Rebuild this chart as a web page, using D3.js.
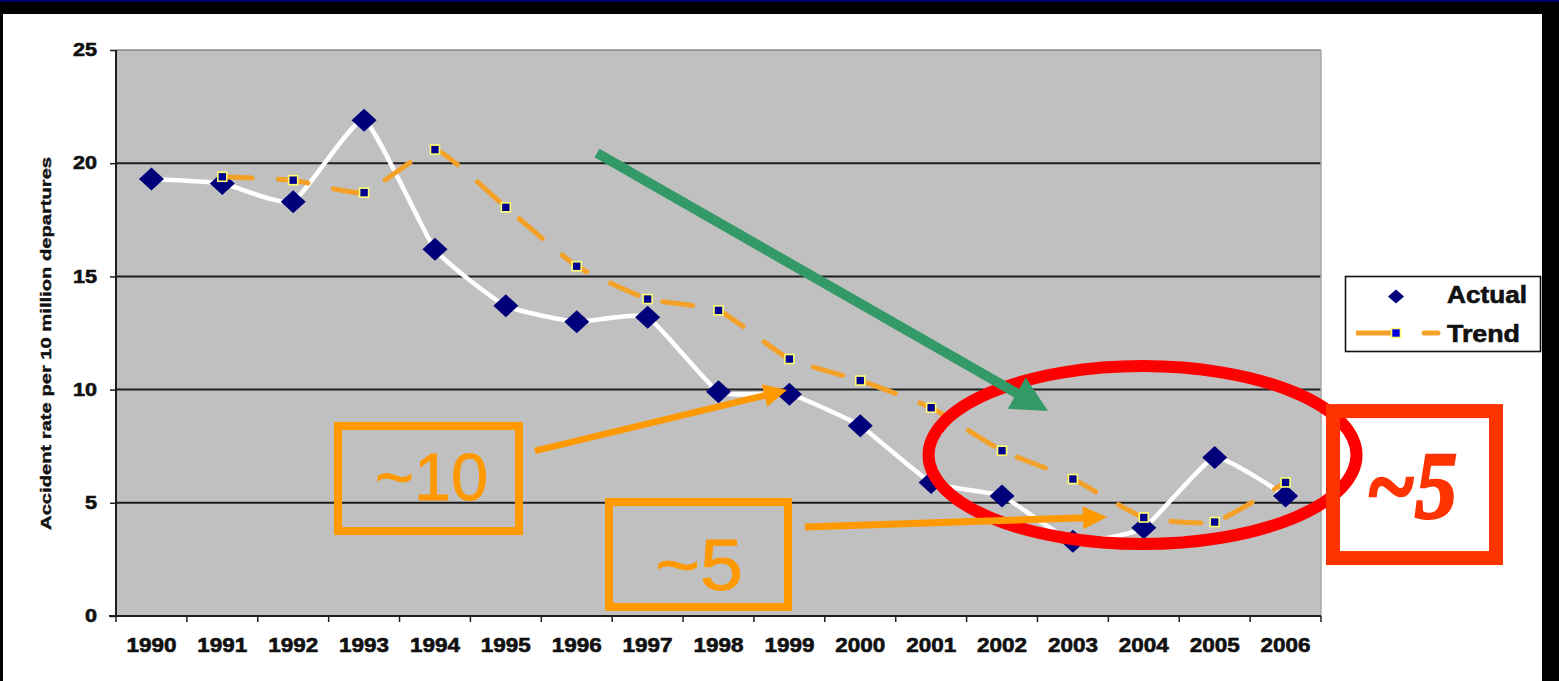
<!DOCTYPE html>
<html><head><meta charset="utf-8">
<script src="https://cdn.jsdelivr.net/npm/d3@7"></script>
<style>html,body{margin:0;padding:0;background:#000;overflow:hidden}svg{display:block}</style>
</head><body>
<svg id="c" width="1559" height="681"></svg>
<script>
// ---------- data ----------
const years = ["1990","1991","1992","1993","1994","1995","1996","1997","1998","1999","2000","2001","2002","2003","2004","2005","2006"];
const actual = [19.3, 19.1, 18.3, 21.9, 16.2, 13.7, 13.0, 13.2, 9.9, 9.8, 8.4, 5.9, 5.3, 3.3, 3.9, 7.0, 5.3];
const trend  = [null, 19.4, 19.25, 18.7, 20.6, 18.05, 15.45, 14.0, 13.5, 11.35, 10.4, 9.2, 7.3, 6.05, 4.35, 4.15, 5.9];
const yTicks = [0, 5, 10, 15, 20, 25];
const seriesNames = ["Actual", "Trend"];
const yTitle = "Accident rate per 10 million departures";
const noteTexts = ["~10", "~5", "~5"];

// ---------- setup ----------
const W = 1559, H = 681;
const svg = d3.select("#c");
const FONT = "'Liberation Sans', Arial, sans-serif";
const INK = "#111";

svg.append("rect").attr("width", W).attr("height", H).attr("fill", "#000");
svg.append("rect").attr("width", W).attr("height", 2).attr("fill", "#00006e");
svg.append("rect").attr("x", 3).attr("y", 14).attr("width", 1539).attr("height", H - 14).attr("fill", "#fff");

const m = {l: 116, r: 1321, t: 50, b: 616};
const x = d3.scaleBand().domain(years).range([m.l, m.r]).padding(0);
const bw = x.bandwidth();
const y = d3.scaleLinear().domain([0, 25]).range([m.b, m.t]);
const cx = i => x(years[0]) + (i + 0.5) * bw;   // fractional category index -> px

// plot background
svg.append("rect").attr("x", m.l).attr("y", m.t).attr("width", m.r - m.l).attr("height", m.b - m.t).attr("fill", "#c0c0c0");

// gridlines
svg.append("g").selectAll("line").data(yTicks.filter(v => v > 0 && v < 25)).join("line")
  .attr("x1", m.l).attr("x2", m.r).attr("y1", d => y(d)).attr("y2", d => y(d))
  .attr("stroke", "#1e1e1e").attr("stroke-width", 2);
svg.append("line").attr("x1", m.l).attr("x2", m.r).attr("y1", y(25)).attr("y2", y(25))
  .attr("stroke", "#8a8a8a").attr("stroke-width", 1.5);
svg.append("line").attr("x1", m.r).attr("x2", m.r).attr("y1", m.t).attr("y2", m.b)
  .attr("stroke", "#a8a8a8").attr("stroke-width", 1.5);

// y axis
const ya = svg.append("g").attr("transform", `translate(${m.l},0)`)
  .call(d3.axisLeft(y).tickValues(yTicks).tickSize(6).tickPadding(13).tickFormat(d3.format("d")));
ya.select(".domain").remove();
ya.selectAll(".tick line").attr("stroke", "#1e1e1e").attr("stroke-width", 1.5);
ya.selectAll(".tick text").attr("font-family", FONT).attr("font-weight", "bold").attr("font-size", 18)
  .attr("fill", INK).attr("stroke", INK).attr("stroke-width", 0.6)
  .attr("textLength", d => String(d).length * 12).attr("lengthAdjust", "spacingAndGlyphs");

// x axis labels
const xa = svg.append("g").attr("transform", `translate(0,${m.b})`)
  .call(d3.axisBottom(x).tickSize(0).tickPadding(22));
xa.select(".domain").remove();
xa.selectAll(".tick text").attr("font-family", FONT).attr("font-weight", "bold").attr("font-size", 20)
  .attr("fill", INK).attr("stroke", INK).attr("stroke-width", 0.6)
  .attr("textLength", 50).attr("lengthAdjust", "spacingAndGlyphs");

// x tick marks at category boundaries
svg.append("g").selectAll("line").data(d3.range(years.length + 1)).join("line")
  .attr("x1", i => m.l + i * bw).attr("x2", i => m.l + i * bw)
  .attr("y1", m.b).attr("y2", m.b + 6)
  .attr("stroke", "#1e1e1e").attr("stroke-width", 1.5);

// axis lines
svg.append("line").attr("x1", m.l).attr("x2", m.l).attr("y1", m.t).attr("y2", m.b)
  .attr("stroke", "#1e1e1e").attr("stroke-width", 2);
svg.append("line").attr("x1", m.l - 7).attr("x2", m.r).attr("y1", m.b).attr("y2", m.b)
  .attr("stroke", "#1e1e1e").attr("stroke-width", 2);

// y axis title
svg.append("text").attr("transform", `translate(51,${y(12.04)}) rotate(-90)`)
  .attr("text-anchor", "middle").attr("font-family", FONT).attr("font-weight", "bold")
  .attr("font-size", 15).attr("fill", INK).attr("stroke", INK).attr("stroke-width", 0.4)
  .attr("textLength", 373).attr("lengthAdjust", "spacingAndGlyphs")
  .text(yTitle);

// ---------- series ----------
const curve = d3.curveCardinal.tension(0.55);
const lineA = d3.line().x((d, i) => cx(i)).y(d => y(d)).curve(curve);
svg.append("path").attr("d", lineA(actual)).attr("fill", "none")
  .attr("stroke", "#fff").attr("stroke-width", 4.5).attr("stroke-linejoin", "round");

const diamond = "M0,-11.5L12.5,0L0,11.5L-12.5,0Z";
svg.append("g").selectAll("path").data(actual).join("path")
  .attr("transform", (d, i) => `translate(${cx(i)},${y(d)})`)
  .attr("d", diamond).attr("fill", "#00007a");

const tPts = trend.map((v, i) => [i, v]).filter(p => p[1] != null);
const lineT = d3.line().x(p => cx(p[0])).y(p => y(p[1])).curve(curve);
svg.append("path").attr("d", lineT(tPts)).attr("fill", "none")
  .attr("stroke", "#f4a12a").attr("stroke-width", 5)
  .attr("stroke-dasharray", "30,26").attr("stroke-linecap", "round");

svg.append("g").selectAll("rect").data(tPts).join("rect")
  .attr("x", p => cx(p[0]) - 4.5).attr("y", p => y(p[1]) - 4.5)
  .attr("width", 9).attr("height", 9)
  .attr("fill", "#000090").attr("stroke", "#ffff70").attr("stroke-width", 1.6);

// ---------- legend ----------
const lg = svg.append("g");
lg.append("rect").attr("x", 1345.5).attr("y", 276.5).attr("width", 195).attr("height", 75)
  .attr("fill", "#fff").attr("stroke", INK).attr("stroke-width", 1.6);
lg.append("path").attr("transform", "translate(1396,296.5)").attr("d", "M0,-7L8,0L0,7L-8,0Z").attr("fill", "#00007a");
lg.append("line").attr("x1", 1356).attr("x2", 1391).attr("y1", 333).attr("y2", 333)
  .attr("stroke", "#f4a12a").attr("stroke-width", 5);
lg.append("line").attr("x1", 1424).attr("x2", 1438).attr("y1", 333).attr("y2", 333)
  .attr("stroke", "#f4a12a").attr("stroke-width", 5).attr("stroke-linecap", "round");
lg.append("rect").attr("x", 1391.5).attr("y", 328.5).attr("width", 9).attr("height", 9)
  .attr("fill", "#0000e0").attr("stroke", "#ffff70").attr("stroke-width", 1.6);
lg.selectAll("text").data(seriesNames).join("text")
  .attr("x", 1447).attr("y", (d, i) => 303 + i * 38.5)
  .attr("font-family", FONT).attr("font-weight", "bold").attr("font-size", 23)
  .attr("fill", INK).attr("stroke", INK).attr("stroke-width", 0.6)
  .attr("textLength", (d, i) => i === 0 ? 80 : 73).attr("lengthAdjust", "spacingAndGlyphs")
  .text(d => d);

// ---------- annotations (positioned in category-index / value space) ----------
function arrow(g, x1, y1, x2, y2, color, w, headLen, headHalf) {
  const dx = x2 - x1, dy = y2 - y1, L = Math.hypot(dx, dy);
  const ux = dx / L, uy = dy / L, nx = -uy, ny = ux;
  const bx = x2 - ux * headLen, by = y2 - uy * headLen;
  g.append("line").attr("x1", x1).attr("y1", y1).attr("x2", bx + ux * 2).attr("y2", by + uy * 2)
    .attr("stroke", color).attr("stroke-width", w);
  g.append("path").attr("d", `M${x2},${y2}L${bx + nx * headHalf},${by + ny * headHalf}L${bx - nx * headHalf},${by - ny * headHalf}Z`)
    .attr("fill", color);
}
const ann = svg.append("g");

// orange boxes with labels
const ORANGE = "#ff9900";
ann.append("rect").attr("x", cx(2.632)).attr("y", y(8.39)).attr("width", cx(5.185) - cx(2.632)).attr("height", y(3.75) - y(8.39))
  .attr("fill", "none").attr("stroke", ORANGE).attr("stroke-width", 8);
ann.append("text").attr("x", cx(3.951)).attr("y", y(5.12)).attr("text-anchor", "middle")
  .attr("font-family", FONT).attr("font-size", 66).attr("fill", ORANGE)
  .attr("stroke", ORANGE).attr("stroke-width", 0.8)
  .attr("textLength", 113).attr("lengthAdjust", "spacingAndGlyphs").text(noteTexts[0]);
ann.append("rect").attr("x", cx(6.455)).attr("y", y(5.035)).attr("width", cx(8.98) - cx(6.455)).attr("height", y(0.40) - y(5.035))
  .attr("fill", "none").attr("stroke", ORANGE).attr("stroke-width", 8);
ann.append("text").attr("x", cx(7.725)).attr("y", y(1.15)).attr("text-anchor", "middle")
  .attr("font-family", FONT).attr("font-size", 73).attr("fill", ORANGE)
  .attr("stroke", ORANGE).attr("stroke-width", 0.8)
  .attr("textLength", 88).attr("lengthAdjust", "spacingAndGlyphs").text(noteTexts[1]);

// red ellipse
ann.append("ellipse").attr("cx", cx(13.982)).attr("cy", y(7.11))
  .attr("rx", cx(13.982 + 3.019) - cx(13.982)).attr("ry", y(7.11 - 3.93) - y(7.11))
  .attr("fill", "none").attr("stroke", "#ff0000").attr("stroke-width", 12);

// red box with label
const RED2 = "#ff3300";
ann.append("rect").attr("x", cx(16.669)).attr("y", y(9.05)).attr("width", cx(18.969) - cx(16.669)).attr("height", y(2.56) - y(9.05))
  .attr("fill", "none").attr("stroke", RED2).attr("stroke-width", 14);
ann.append("text").attr("x", cx(17.78)).attr("y", y(4.33)).attr("text-anchor", "middle")
  .attr("font-family", "'Liberation Serif', 'Times New Roman', serif").attr("font-weight", "bold").attr("font-style", "italic")
  .attr("font-size", 96).attr("fill", RED2).attr("stroke", RED2).attr("stroke-width", 2.5)
  .attr("textLength", 91).attr("lengthAdjust", "spacingAndGlyphs").text(noteTexts[2]);

// green arrow
arrow(ann, cx(6.286), y(20.45), cx(12.649), y(9.05), "#339966", 10, 36, 18);
// orange arrows
arrow(ann, cx(5.411), y(7.29), cx(8.966), y(9.98), ORANGE, 6.5, 23, 11.5);
arrow(ann, cx(9.22), y(3.93), cx(13.481), y(4.37), ORANGE, 7, 24, 11.5);
</script>
</body></html>
